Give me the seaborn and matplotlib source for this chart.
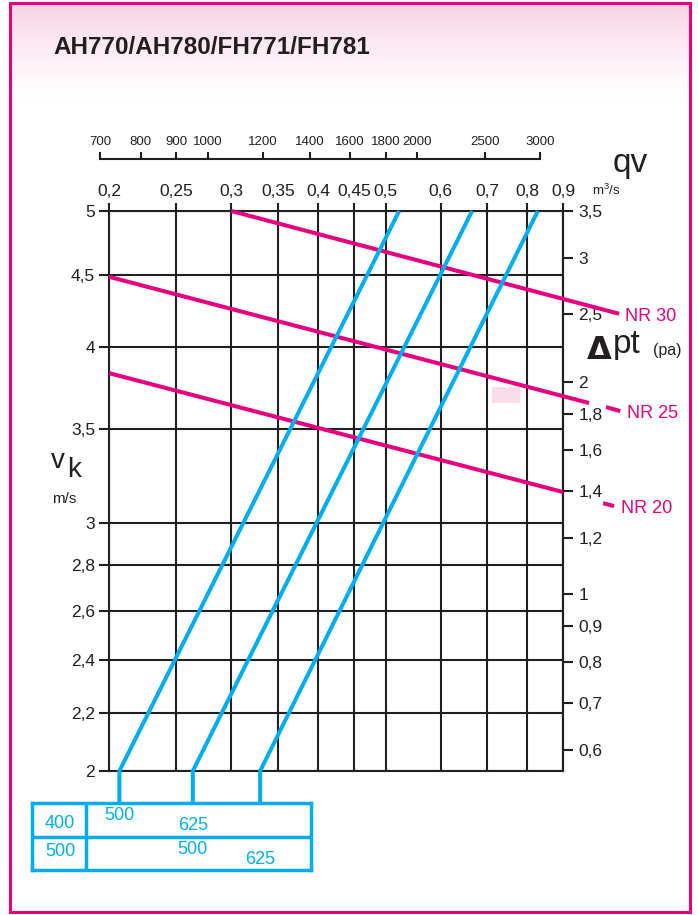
import numpy as np
import pandas as pd
import matplotlib
matplotlib.use("Agg")
import matplotlib.pyplot as plt
import seaborn as sns
import matplotlib.transforms as mtransforms
from matplotlib.ticker import FixedLocator, FuncFormatter, NullLocator
from matplotlib.patches import Rectangle

# ---------------- data ----------------
title = "AH770/AH780/FH771/FH781"
qv_ticks = [0.2, 0.25, 0.3, 0.35, 0.4, 0.45, 0.5, 0.6, 0.7, 0.8, 0.9]
vk_ticks = [2, 2.2, 2.4, 2.6, 2.8, 3, 3.5, 4, 4.5, 5]
dpt_ticks = [0.6, 0.7, 0.8, 0.9, 1, 1.2, 1.4, 1.6, 1.8, 2, 2.5, 3, 3.5]
m3h_ticks = [700, 800, 900, 1000, 1200, 1400, 1600, 1800, 2000, 2500, 3000]
dpt_coeff = 0.14          # delta pt = coeff * vk^2

# duct-size lines (q in m3/s at vk = 2 and vk = 5)
duct_q_low = [0.207, 0.264, 0.330]
duct_q_high = [0.523, 0.666, 0.828]
duct_v_low = [2.0, 2.0, 2.0]
duct_v_high = [5.0, 5.0, 5.0]

# NR curves
nr_labels = ["NR 30", "NR 25", "NR 20"]
nr_q_start = [0.30, 0.20, 0.20]
nr_v_start = [5.0, 4.49, 3.835]
nr_q_end = [1.084, 0.981, 0.90]
nr_v_end = [4.226, 3.652, 3.157]
nr_tail_q = [[], [1.038, 1.088], [1.028, 1.066]]
nr_tail_v = [[], [3.628, 3.604], [3.100, 3.085]]

# table under the chart
table_rows = ["400", "500"]
table_row1 = ["500", "625"]     # under duct lines 0, 1
table_row2 = ["500", "625"]     # under duct lines 1, 2

PINK = "#E5007D"
CYAN = "#00AEEF"
DARK = "#231F20"

sns.set_theme(style="white")
plt.rcParams['font.family'] = ['Liberation Sans', 'DejaVu Sans']
plt.rcParams['mathtext.fontset'] = 'custom'
plt.rcParams['mathtext.rm'] = 'Liberation Sans'

W, H = 698, 915
fig = plt.figure(figsize=(W / 100, H / 100), dpi=100)
fig.patch.set_facecolor("white")


def fx(px):
    return px / W


def fy(py):
    return 1 - py / H


# background gradient + frame
bg = fig.add_axes([0, 0, 1, 1], zorder=-10)
bg.set_axis_off()
bg.set_xlim(0, 1)
bg.set_ylim(0, 1)
n = 100
t = np.linspace(1, 0, n) ** 1.3
top = np.array([248, 210, 228]) / 255.0
img = (top[None, :] * t[:, None] + (1 - t[:, None]) * np.ones(3)[None, :])[:, None, :]
bg.imshow(img, extent=(fx(10), fx(690), fy(100), fy(3)), aspect="auto", zorder=0)
bg.add_patch(Rectangle((fx(10), fy(912)), fx(690) - fx(10), fy(3) - fy(912),
                       fill=False, ec=PINK, lw=2.2, zorder=2))

# main axes
ax = fig.add_axes([fx(109), fy(771), fx(563) - fx(109), fy(211) - fy(771)])
ax.set_xscale("log")
ax.set_yscale("log")
ax.set_facecolor("white")

comma = FuncFormatter(lambda v, p: f"{v:g}".replace(".", ","))

# NR lines
nr_rows = []
for i, lab in enumerate(nr_labels):
    nr_rows.append((f"{lab}-a", nr_q_start[i], nr_v_start[i]))
    nr_rows.append((f"{lab}-a", nr_q_end[i], nr_v_end[i]))
    for q, v in zip(nr_tail_q[i], nr_tail_v[i]):
        nr_rows.append((f"{lab}-b", q, v))
nr_df = pd.DataFrame(nr_rows, columns=["seg", "q", "v"])
sns.lineplot(data=nr_df, x="q", y="v", units="seg", estimator=None, sort=False,
             color=PINK, lw=2.9, ax=ax, legend=False, clip_on=False,
             solid_capstyle="butt", zorder=3)

ax.set_xlim(0.2, 0.9)
ax.set_ylim(2, 5)

# table position (needed for leader lines)
tab_rect = [fx(32), fy(870), fx(311) - fx(32), fy(803) - fy(870)]
v_table_top = ax.transData.inverted().transform(
    fig.transFigure.transform((0, fy(803))))[1]

duct_rows = []
for i in range(len(duct_q_low)):
    duct_rows.append((i, duct_q_low[i], v_table_top))
    duct_rows.append((i, duct_q_low[i], duct_v_low[i]))
    duct_rows.append((i, duct_q_high[i], duct_v_high[i]))
duct_df = pd.DataFrame(duct_rows, columns=["duct", "q", "v"])
sns.lineplot(data=duct_df, x="q", y="v", units="duct", estimator=None, sort=False,
             color=CYAN, lw=2.9, ax=ax, legend=False, clip_on=False,
             solid_capstyle="butt", solid_joinstyle="miter", zorder=4)

ax.set_xlim(0.2, 0.9)
ax.set_ylim(2, 5)
ax.set_xlabel("")
ax.set_ylabel("")

ax.xaxis.set_major_locator(FixedLocator(qv_ticks))
ax.xaxis.set_minor_locator(NullLocator())
ax.yaxis.set_major_locator(FixedLocator(vk_ticks))
ax.yaxis.set_minor_locator(NullLocator())
ax.xaxis.set_major_formatter(comma)
ax.yaxis.set_major_formatter(comma)
ax.grid(True, which="major", color=DARK, lw=1.5)
ax.tick_params(axis="x", which="major", top=True, bottom=False, labeltop=True,
               labelbottom=False, direction="out", length=6, width=1.5,
               color=DARK, labelcolor=DARK, pad=3, labelsize=12.5)
ax.tick_params(axis="y", which="major", left=True, right=False, direction="out",
               length=7, width=1.5, color=DARK, labelcolor=DARK, pad=3, labelsize=12.5)
for s in ax.spines.values():
    s.set_visible(True)
    s.set_color(DARK)
    s.set_linewidth(1.5)

# secondary (pressure) axis
sec = ax.secondary_yaxis("right", functions=(lambda v: dpt_coeff * np.square(v),
                                              lambda p: np.sqrt(np.abs(p) / dpt_coeff)))
sec.set_yticks(dpt_ticks)
sec.yaxis.set_major_formatter(comma)
sec.yaxis.set_minor_locator(NullLocator())
sec.tick_params(axis="y", which="major", direction="out", length=7, width=1.5,
                color=DARK, labelcolor=DARK, pad=4, labelsize=12.5)
sec.tick_params(axis="y", which="minor", length=0)
sec.spines["right"].set_color(DARK)
sec.spines["right"].set_linewidth(1.5)

# top ruler m3/h
p0 = fig.transFigure.inverted().transform(ax.transData.transform((m3h_ticks[0] / 3600, 5)))
p1 = fig.transFigure.inverted().transform(ax.transData.transform((m3h_ticks[-1] / 3600, 5)))
rul = fig.add_axes([p0[0], fy(159), p1[0] - p0[0], 0.0001])
rul.set_xscale("log")
rul.set_xlim(m3h_ticks[0], m3h_ticks[-1])
rul.xaxis.set_major_locator(FixedLocator(m3h_ticks))
rul.xaxis.set_minor_locator(NullLocator())
rul.xaxis.set_major_formatter(FuncFormatter(lambda v, p: f"{v:.0f}"))
rul.set_yticks([])
rul.patch.set_alpha(0)
for k, s in rul.spines.items():
    s.set_visible(k == "top")
rul.spines["top"].set_color(DARK)
rul.spines["top"].set_linewidth(1.5)
rul.tick_params(axis="x", which="major", top=True, bottom=False, labeltop=True,
                labelbottom=False, direction="out", length=5, width=1.5,
                color=DARK, labelcolor=DARK, pad=3, labelsize=9.5)

# NR labels
for i, lab in enumerate(nr_labels):
    if nr_tail_q[i]:
        xy = (nr_tail_q[i][-1], nr_tail_v[i][-1])
        off = (7, -2)
    else:
        xy = (nr_q_end[i], nr_v_end[i])
        off = (6, -3)
    ax.annotate(lab, xy=xy, xytext=off, textcoords="offset pixels", color=PINK,
                fontsize=13, ha="left", va="center", annotation_clip=False)

# light pink mark
ax.add_patch(Rectangle((fx(492), fy(403)), fx(520) - fx(492), fy(387) - fy(403),
                       transform=fig.transFigure, color="#FADCEA", zorder=1, lw=0))

# text labels
fig.text(fx(53), fy(54), title, fontsize=17.5, fontweight="bold", color=DARK,
         ha="left", va="baseline")
fig.text(fx(613), fy(172), "qv", fontsize=24, color=DARK, ha="left", va="baseline")
fig.text(fx(592), fy(195), r"m$^\mathregular{3}$/s", fontsize=9.5, color=DARK,
         ha="left", va="baseline")
fig.text(fx(587), fy(359), "Δ", fontsize=23, fontweight="bold", color=DARK,
         family="DejaVu Sans", ha="left", va="baseline")
fig.text(fx(613), fy(353), "pt", fontsize=24, color=DARK, ha="left", va="baseline")
fig.text(fx(653), fy(355), "(pa)", fontsize=11.5, color=DARK, ha="left", va="baseline")
fig.text(fx(51), fy(468), "v", fontsize=20, color=DARK, ha="left", va="baseline")
fig.text(fx(67), fy(477), "k", fontsize=20, color=DARK, ha="left", va="baseline")
fig.text(fx(52), fy(503), "m/s", fontsize=11, color=DARK, ha="left", va="baseline")

# table
tab = fig.add_axes(tab_rect)
tab.set_xlim(0, 1)
tab.set_ylim(0, 1)
tab.set_xticks([])
tab.set_yticks([])
tab.patch.set_visible(False)
for s in tab.spines.values():
    s.set_visible(True)
    s.set_color(CYAN)
    s.set_linewidth(2.5)
tab.axvline((86 - 32) / (311 - 32), color=CYAN, lw=2.5)
tab.axhline((870 - 837) / (870 - 803), color=CYAN, lw=2.5)
row_y = [(870 - 823) / 67, (870 - 852) / 67]
for lab, yy in zip(table_rows, row_y):
    tab.text((60 - 32) / 279, yy, lab, ha="center", va="center", color=CYAN, fontsize=13)

blend = mtransforms.blended_transform_factory(ax.transData, fig.transFigure)
row1_y = [fy(816), fy(825)]
row2_y = [fy(850), fy(859)]
for j, lab in enumerate(table_row1):
    tab.text(duct_q_low[j], row1_y[j], lab, transform=blend, ha="center", va="center",
             color=CYAN, fontsize=13, clip_on=False)
for j, lab in enumerate(table_row2):
    tab.text(duct_q_low[j + 1], row2_y[j], lab, transform=blend, ha="center", va="center",
             color=CYAN, fontsize=13, clip_on=False)

fig.savefig("out.png", dpi=100)
